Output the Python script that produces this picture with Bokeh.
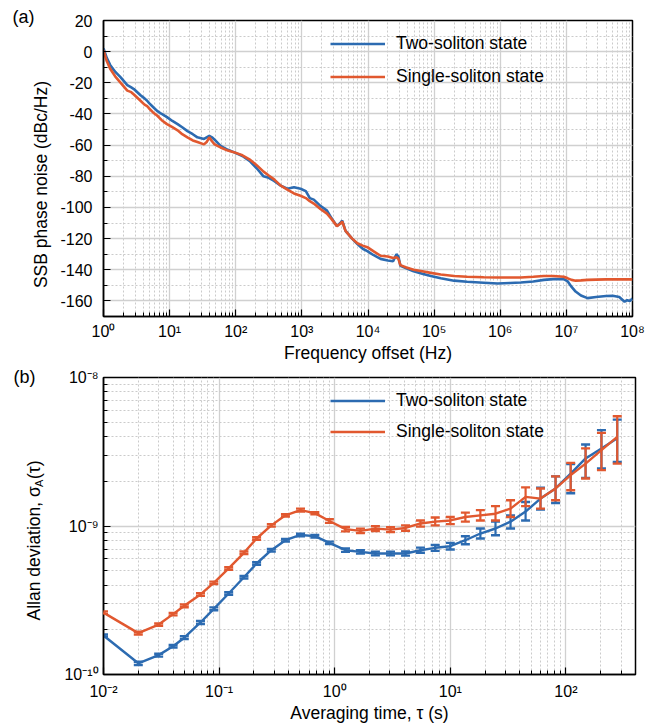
import math
from bokeh.plotting import figure
from bokeh.layouts import column
from bokeh.models import (FixedTicker, CustomJSTickFormatter, Legend, LegendItem,
                          Label, Whisker, TeeHead, ColumnDataSource)
from bokeh.embed import file_html
from bokeh.resources import INLINE

FONT = "Liberation Sans"
BLUE = "#2c6bb1"
ORANGE = "#e1582f"

# ---------------- panel (a) data : SSB phase noise ----------------
freq_hz = [1.0, 1.12, 1.26, 1.51, 1.82, 2.29, 2.63, 2.88, 3.63, 4.17, 4.57, 4.9,
           5.62, 6.46, 7.59, 9.12, 11.0, 13.2, 15.5, 18.6, 22.4, 26.3, 33.1, 36.3,
           39.8, 43.7, 47.9, 58.9, 75.9, 93.3, 126, 166, 209, 263, 316, 380, 479,
           603, 759, 955, 1148, 1318, 1514, 1905, 2399, 2818, 3388, 3802, 4074,
           4571, 5754, 6918, 8318, 9772, 12023, 15488, 19953, 23988, 26915, 28840,
           30903, 38019, 48978, 66069, 89125, 1.26e5, 2.0e5, 3.16e5, 5.62e5,
           9.12e5, 1.41e6, 2.04e6, 3.16e6, 4.57e6, 6.31e6, 9.12e6, 1.05e7, 1.2e7,
           1.38e7, 1.66e7, 2.09e7, 2.82e7, 3.98e7, 5.01e7, 6.31e7, 7.59e7, 8.32e7,
           9.12e7, 1.0e8]
pn_two_soliton = [2, -4, -8.5, -13, -16.5, -21.5, -23, -24, -28, -30, -31.5, -33,
                  -35.5, -38, -40, -42, -44.5, -46.5, -48.5, -51, -53, -55, -56, -55,
                  -54, -55, -56.5, -60.5, -63, -64.5, -67, -70.5, -75, -80, -81, -83,
                  -86, -88, -87, -88, -89.5, -94, -95, -99, -102, -107, -112, -110,
                  -108.5, -115, -120, -123.5, -126.5, -128, -130.5, -133, -134,
                  -134.5, -130, -131.5, -137.5, -139, -141, -142.5, -144, -145.5,
                  -147, -147.7, -148.3, -148.8, -148.5, -148.2, -147.5, -146.5, -146,
                  -146, -147.5, -151, -154, -156.5, -158.2, -157.5, -156.8, -156.7,
                  -157.5, -160.5, -159.5, -160, -158.5]
pn_single_soliton = [1, -6, -11, -16, -20, -25, -26, -27.5, -31.5, -34, -35, -36.5,
                     -39, -41, -44, -46.5, -48.5, -50.5, -53, -55, -57, -58, -59.5,
                     -58, -55, -57.5, -59.5, -61.5, -63.5, -64.5, -66.5, -69.5, -73,
                     -77, -79.5, -82, -86, -88.5, -91, -92.5, -94, -96, -97.5, -101,
                     -104, -107.5, -112, -110.5, -109, -115, -120, -123, -124.5,
                     -125.5, -128, -131, -131.5, -132.5, -132, -133, -137, -138.5,
                     -140, -141, -142, -143, -144, -144.5, -144.8, -145, -145, -145,
                     -144.5, -144, -144, -144.5, -145.5, -146.5, -147, -146.8, -146.5,
                     -146.3, -146.2, -146.2, -146.2, -146.2, -146.2, -146.2, -146.2]

# ---------------- panel (b) data : Allan deviation ----------------
tau_s = [0.01, 0.02, 0.03, 0.04, 0.05, 0.069, 0.09, 0.121, 0.164, 0.211, 0.283,
         0.375, 0.506, 0.673, 0.9, 1.24, 1.67, 2.25, 3.04, 4.1, 5.52, 7.4, 10,
         13.5, 18.2, 24.6, 33.2, 44.8, 60.3, 81.4, 110, 148, 203, 278]
# values in units of 1e-10
adev_two = [1.83, 1.19, 1.35, 1.55, 1.77, 2.24, 2.77, 3.51, 4.52, 5.59, 6.87, 8.02,
            8.70, 8.54, 7.70, 6.87, 6.70, 6.53, 6.53, 6.53, 6.87, 7.13, 7.31, 8.02,
            8.90, 9.62, 10.7, 12.5, 15.3, 17.9, 22.5, 28.5, 33.3, 39.0]
adev_two_hi = [1.86, 1.22, 1.38, 1.58, 1.81, 2.29, 2.83, 3.58, 4.61, 5.70, 7.01, 8.18,
               8.87, 8.71, 7.85, 7.05, 6.88, 6.72, 6.72, 6.74, 7.15, 7.45, 7.7, 8.53,
               9.61, 10.7, 11.8, 14.5, 18.1, 21.6, 26.1, 35.4, 44.2, 52.0]
adev_two_lo = [1.80, 1.16, 1.32, 1.52, 1.73, 2.19, 2.71, 3.44, 4.43, 5.48, 6.73, 7.86,
               8.53, 8.37, 7.55, 6.70, 6.52, 6.34, 6.34, 6.32, 6.60, 6.80, 6.95, 7.53,
               8.24, 8.67, 9.61, 10.9, 12.9, 14.3, 16.6, 21.1, 24.4, 27.0]
adev_single = [2.61, 1.90, 2.17, 2.55, 2.90, 3.46, 4.14, 5.18, 6.60, 8.24, 10.1, 11.8,
               12.8, 12.2, 10.8, 9.52, 9.27, 9.60, 9.45, 9.70, 10.4, 10.7, 10.9, 11.5,
               11.8, 12.1, 13.1, 15.7, 15.3, 17.9, 22.0, 26.3, 32.4, 39.8]
adev_single_hi = [2.66, 1.94, 2.21, 2.60, 2.96, 3.53, 4.22, 5.28, 6.73, 8.40, 10.3,
                  12.0, 13.1, 12.4, 11.1, 9.85, 9.6, 9.95, 9.8, 10.1, 10.9, 11.4, 11.5,
                  12.3, 12.8, 13.6, 14.9, 18.2, 17.9, 21.6, 26.6, 33.3, 42.4, 54.8]
adev_single_lo = [2.56, 1.86, 2.13, 2.50, 2.84, 3.39, 4.06, 5.08, 6.47, 8.08, 9.9,
                  11.6, 12.5, 12.0, 10.5, 9.2, 8.95, 9.25, 9.1, 9.3, 9.9, 10.1, 10.3,
                  10.7, 10.9, 10.9, 11.5, 13.6, 13.1, 14.9, 17.4, 20.9, 23.8, 26.3]

SERIES_NAMES = ["Two-soliton state", "Single-soliton state"]

SUP_CODE = """
const s = {"0":"\u2070","1":"\u00b9","2":"\u00b2","3":"\u00b3","4":"\u2074","5":"\u2075",
           "6":"\u2076","7":"\u2077","8":"\u2078","9":"\u2079","-":"\u207b"};
const e = Math.round(Math.log10(tick));
return "10" + String(e).split("").map(c => s[c]).join("");
"""


def style(p):
    p.background_fill_color = "white"
    p.border_fill_color = "white"
    p.outline_line_color = "black"
    p.outline_line_width = 1.5
    p.outline_line_alpha = 1.0
    for ax in (p.xaxis[0], p.yaxis[0]):
        ax.axis_line_color = "black"
        ax.axis_line_width = 1.5
        ax.major_tick_in = 7
        ax.major_tick_out = 0
        ax.minor_tick_in = 4
        ax.minor_tick_out = 0
        ax.major_tick_line_color = "black"
        ax.minor_tick_line_color = "black"
        ax.major_tick_line_width = 1.2
        ax.minor_tick_line_width = 1.0
        ax.major_label_text_font = FONT
        ax.major_label_text_font_size = "16px"
        ax.major_label_text_color = "black"
        ax.axis_label_text_font = FONT
        ax.axis_label_text_font_size = "17.5px"
        ax.axis_label_text_font_style = "normal"
        ax.axis_label_text_color = "black"
    for g in (p.xgrid[0], p.ygrid[0]):
        g.grid_line_color = "#d0d0d0"
        g.grid_line_width = 1.3
        g.minor_grid_line_color = "#cbcbcb"
        g.minor_grid_line_width = 1.0
        g.minor_grid_line_dash = "2 2"


def legend(p, r1, r2, y, spacing):
    lg = Legend(items=[LegendItem(label=SERIES_NAMES[0], renderers=[r1]),
                       LegendItem(label=SERIES_NAMES[1], renderers=[r2])],
                location=(227, y), orientation="vertical",
                glyph_width=55, glyph_height=21, label_height=21, label_standoff=11,
                spacing=spacing, padding=0, margin=0,
                border_line_alpha=0, background_fill_alpha=0,
                label_text_font=FONT, label_text_font_size="17.5px",
                label_text_color="black")
    p.add_layout(lg)


def text_label(p, side, x0, y0, dx, dy, text, size, angle=0.0, align="left"):
    # anchored at the frame's bottom-left data corner, offset in pixels;
    # placed in a side panel so that it is not clipped to the frame
    p.add_layout(Label(x=x0, y=y0, x_offset=dx, y_offset=dy, text=text,
                       angle=angle, text_align=align, text_baseline="middle",
                       text_font=FONT, text_font_size=size, text_color="black"),
                 side)


# ---------------- figure (a) ----------------
pa = figure(frame_width=529, frame_height=296, x_axis_type="log",
            x_range=(1, 1e8), y_range=(-170, 20),
            min_border_left=103, min_border_right=25, min_border_top=20,
            min_border_bottom=50, output_backend="svg", toolbar_location=None)
style(pa)
pa.xaxis[0].ticker = FixedTicker(ticks=[10.0 ** e for e in range(0, 9)],
                                 minor_ticks=[m * 10.0 ** e for e in range(0, 8) for m in range(2, 10)])
pa.xaxis[0].formatter = CustomJSTickFormatter(code=SUP_CODE)
pa.yaxis[0].ticker = FixedTicker(ticks=list(range(-160, 21, 20)),
                                 minor_ticks=list(range(-170, 21, 10)))
pa.yaxis[0].formatter = CustomJSTickFormatter(code="return tick.toFixed(0);")
pa.xaxis[0].axis_label = "Frequency offset (Hz)"
pa.xaxis[0].major_label_standoff = 6
pa.xaxis[0].axis_label_standoff = 0
pa.yaxis[0].major_label_standoff = 11

ra1 = pa.line(freq_hz, pn_two_soliton, line_color=BLUE, line_width=2.6)
ra2 = pa.line(freq_hz, pn_single_soliton, line_color=ORANGE, line_width=2.6)
legend(pa, ra1, ra2, 229, 12)

text_label(pa, "left", 1, -170, -63, 132, "SSB phase noise (dBc/Hz)", "17.5px",
           angle=math.pi / 2, align="center")
text_label(pa, "right", 1, -170, -91, 300, "(a)", "18px")

# ---------------- figure (b) ----------------
pb = figure(frame_width=532, frame_height=297, x_axis_type="log", y_axis_type="log",
            x_range=(0.01, 400), y_range=(1e-10, 1e-8),
            min_border_left=103, min_border_right=22, min_border_top=11,
            min_border_bottom=51, output_backend="svg", toolbar_location=None)
style(pb)
pb.xaxis[0].ticker = FixedTicker(ticks=[0.01, 0.1, 1.0, 10.0, 100.0],
                                 minor_ticks=[m * 10.0 ** e for e in range(-2, 3) for m in range(2, 10)])
pb.xaxis[0].formatter = CustomJSTickFormatter(code=SUP_CODE)
pb.yaxis[0].ticker = FixedTicker(ticks=[1e-10, 1e-9, 1e-8],
                                 minor_ticks=[m * 10.0 ** e for e in (-10, -9) for m in range(2, 10)])
pb.yaxis[0].formatter = CustomJSTickFormatter(code=SUP_CODE)
pb.xaxis[0].axis_label = "Averaging time, \u03c4 (s)"
pb.xaxis[0].major_label_standoff = 8
pb.xaxis[0].axis_label_standoff = 0
pb.yaxis[0].major_label_standoff = 5

scale = 1e-10
two_src = ColumnDataSource(dict(t=tau_s, v=[v * scale for v in adev_two],
                                hi=[v * scale for v in adev_two_hi],
                                lo=[v * scale for v in adev_two_lo]))
one_src = ColumnDataSource(dict(t=tau_s, v=[v * scale for v in adev_single],
                                hi=[v * scale for v in adev_single_hi],
                                lo=[v * scale for v in adev_single_lo]))

rb1 = pb.line("t", "v", source=two_src, line_color=BLUE, line_width=2.4, level="glyph")
w1 = Whisker(source=two_src, base="t", upper="hi", lower="lo", dimension="height",
             line_color=BLUE, line_width=2.2, level="glyph",
             upper_head=TeeHead(size=9, line_color=BLUE, line_width=2.4),
             lower_head=TeeHead(size=9, line_color=BLUE, line_width=2.4))
pb.renderers.append(w1)
rb2 = pb.line("t", "v", source=one_src, line_color=ORANGE, line_width=2.4, level="annotation")
w2 = Whisker(source=one_src, base="t", upper="hi", lower="lo", dimension="height",
             line_color=ORANGE, line_width=2.2, level="annotation",
             upper_head=TeeHead(size=9, line_color=ORANGE, line_width=2.4),
             lower_head=TeeHead(size=9, line_color=ORANGE, line_width=2.4))
pb.renderers.append(w2)
legend(pb, rb1, rb2, 232, 10)

text_label(pb, "left", 0.01, 1e-10, -70, 54, "Allan deviation, \u03c3", "17.5px", angle=math.pi / 2)
text_label(pb, "above", 0.01, 1e-10, -65, 187.5, "A", "11px", angle=math.pi / 2)
text_label(pb, "left", 0.01, 1e-10, -70, 195.5, "(\u03c4)", "17.5px", angle=math.pi / 2)
text_label(pb, "right", 0.01, 1e-10, -90, 298, "(b)", "18px")

layout = column(pa, pb, spacing=0)
open("out.html", "w").write(file_html(layout, INLINE))
